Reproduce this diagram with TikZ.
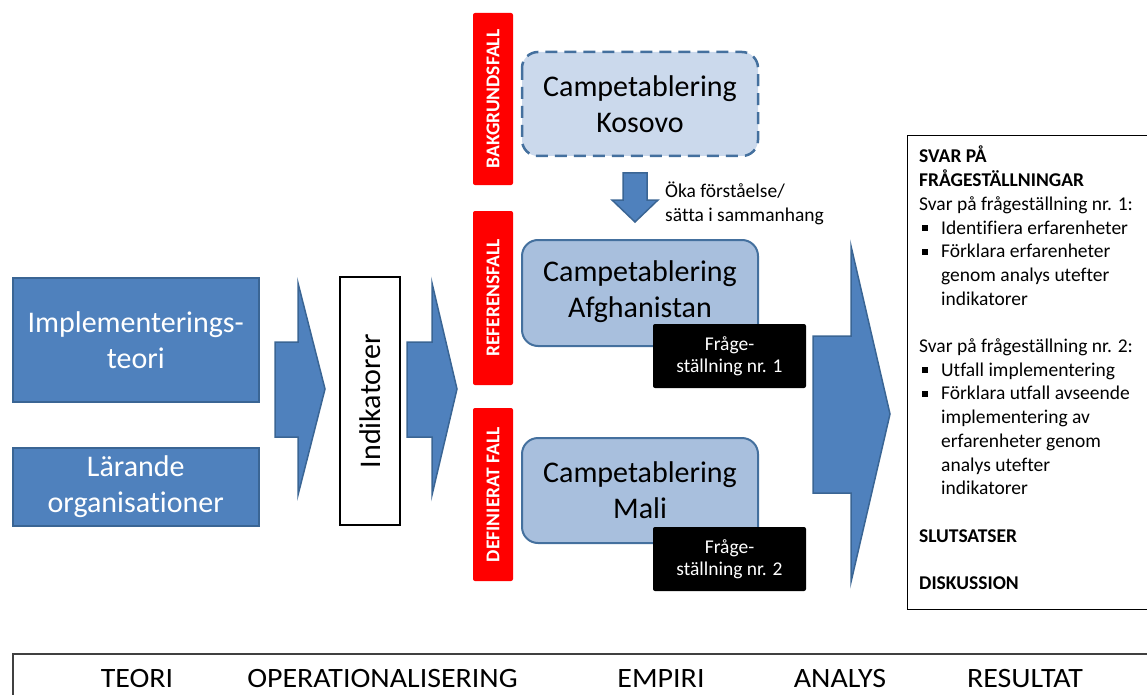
\documentclass[tikz,border=0pt]{standalone}
\usepackage{fontspec}
\setmainfont{Carlito}[Ligatures={NoCommon,NoContextual}]
\definecolor{boxblue}{HTML}{4F81BD}
\definecolor{boxedge}{HTML}{3A6594}
\definecolor{caseA}{HTML}{A8BFDD}
\definecolor{caseK}{HTML}{CBD9EC}
\definecolor{caseedge}{HTML}{44709E}
\definecolor{redlab}{HTML}{FF0000}
\definecolor{framegray}{HTML}{404040}
\newcommand{\fs}[2]{\fontsize{#1}{#2}\selectfont}
\newcommand{\mybul}{\makebox[22pt][l]{\hspace{3pt}\raisebox{3pt}{\rule{6pt}{6pt}}}}
\newcommand{\myind}{\hspace*{22pt}}
\newcommand{\wide}[1]{\scalebox{1.07}[1]{#1}}
\begin{document}
\begin{tikzpicture}[x=1pt,y=-1pt,
  bluebox/.style={draw=boxedge,line width=1.5pt,fill=boxblue,text=white,align=center,
    font=\fs{30}{36},inner sep=0pt},
  blockarrow/.style={draw=boxedge,line width=1.5pt,fill=boxblue},
  redlabel/.style={fill=redlab,text=white,font=\bfseries\fs{19.5}{22},rotate=90,
    minimum height=40pt,inner sep=0pt,rounded corners=2pt},
  casebox/.style={draw=caseedge,line width=2pt,rounded corners=16pt,fill=caseA},
  casetext/.style={align=center,font=\fs{30}{36},inner sep=0pt},
  qbox/.style={fill=black,text=white,align=center,font=\fs{19.5}{22},inner sep=0pt,
    minimum width=153pt,minimum height=64pt,rounded corners=2pt},
  bottomlabel/.style={anchor=base,font=\fs{28}{32},inner sep=0pt}]
\useasboundingbox (0,0) rectangle (1147,695);

% left theory boxes
\node[bluebox,anchor=north west,minimum width=246pt,minimum height=124pt] (impl) at (12,277)
  {Implementerings-\\teori};
\node[bluebox,anchor=north west,minimum width=246pt,minimum height=78pt] (lar) at (12,447)
  {Lärande\\organisationer};

% block arrow 1
\draw[blockarrow] (275,342) -- (298,342) -- (298,283) -- (325,389) -- (298,495)
  -- (298,437) -- (275,437) -- cycle;

% Indikatorer
\node[draw=black,line width=2pt,fill=white,rotate=90,minimum width=248pt,minimum height=60pt,
  inner sep=0pt,font=\fs{30}{36}] (ind) at (370,401) {Indikatorer};

% block arrow 2
\draw[blockarrow] (407,342) -- (432,342) -- (432,283) -- (457,389) -- (432,495)
  -- (432,437) -- (407,437) -- cycle;

% red labels
\node[redlabel,minimum width=172pt] (bak) at (493,99) {BAKGRUNDSFALL};
\node[redlabel,minimum width=174pt] (ref) at (493,298) {REFERENSFALL};
\node[redlabel,minimum width=173pt] (def) at (493,494.5) {DEFINIERAT FALL};

% Kosovo
\draw[casebox,fill=caseK,dash pattern=on 12pt off 7pt,line width=2.5pt] (522,52) rectangle (758,156);
\node[casetext] (kos) at (640,104) {Campetablering\\Kosovo};

% down arrow
\draw[blockarrow] (623,173) -- (647,173) -- (647,200) -- (658,200) -- (635,222)
  -- (612,200) -- (623,200) -- cycle;
\node[anchor=west,align=left,font=\fs{19.5}{24},inner sep=0pt] (oka) at (665,203)
  {Öka förståelse/\\sätta i sammanhang};

% Afghanistan
\draw[casebox] (522,240) rectangle (758,346);
\node[casetext] (afg) at (640,292) {Campetablering\\Afghanistan};
\node[qbox] (q1) at (729.5,356) {Fråge-\\ställning nr. 1};

% Mali
\draw[casebox] (522,438) rectangle (758,543);
\node[casetext] (mali) at (640,490) {Campetablering\\Mali};
\node[qbox] (q2) at (729.5,559) {Fråge-\\ställning nr. 2};

% big arrow
\draw[blockarrow] (813,336) -- (851,336) -- (851,246) -- (890,414) -- (851,582)
  -- (851,493) -- (813,493) -- cycle;

% result box
\draw[black,line width=1pt] (907,136) rectangle (1160,609);
\node[anchor=north west,align=left,inner sep=0pt,font=\fs{19.5}{23.7}] (res) at (919,146)
  {\textbf{SVAR PÅ}\\
   \textbf{FRÅGESTÄLLNINGAR}\\
   Svar på frågeställning nr. 1:\\
   \mybul Identifiera erfarenheter\\
   \mybul Förklara erfarenheter\\
   \myind genom analys utefter\\
   \myind indikatorer\\
   \mbox{}\\
   Svar på frågeställning nr. 2:\\
   \mybul Utfall implementering\\
   \mybul Förklara utfall avseende\\
   \myind implementering av\\
   \myind erfarenheter genom\\
   \myind analys utefter\\
   \myind indikatorer\\
   \mbox{}\\
   \textbf{SLUTSATSER}\\
   \mbox{}\\
   \textbf{DISKUSSION}};

% bottom band
\draw[framegray,line width=1.5pt] (13,654) rectangle (1160,710);
\node[bottomlabel] (teori) at (137,687) {\wide{TEORI}};
\node[bottomlabel] (oper) at (382.5,687) {\wide{OPERATIONALISERING}};
\node[bottomlabel] (emp) at (661,687) {\wide{EMPIRI}};
\node[bottomlabel] (ana) at (840,687) {\wide{ANALYS}};
\node[bottomlabel] (resu) at (1025,687) {\wide{RESULTAT}};
\end{tikzpicture}
\end{document}
